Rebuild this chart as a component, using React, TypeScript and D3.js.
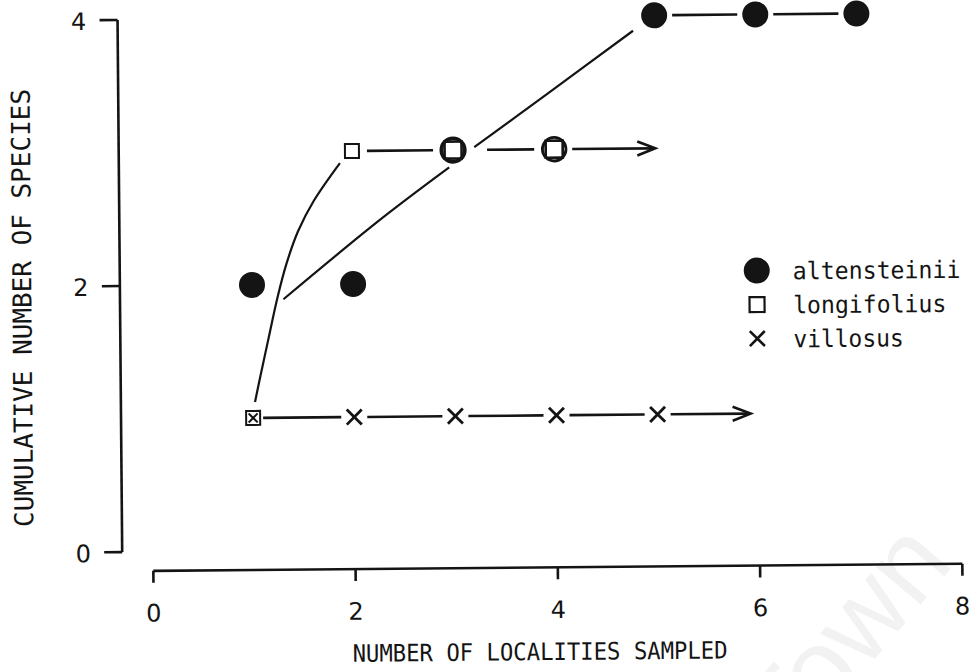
import React from 'react';
import * as d3 from 'd3';

// ---------- data ----------
const xTicks = [0, 2, 4, 6, 8];
const yTicks = [0, 2, 4];
const xTitle = 'NUMBER OF LOCALITIES SAMPLED';
const yTitle = 'CUMULATIVE NUMBER OF SPECIES';
const seriesNames = ['altensteinii', 'longifolius', 'villosus'];

const altX = [1, 2, 3, 4, 5, 6, 7];
const altY = [2, 2, 3, 3, 4, 4, 4];
const longX = [1, 2, 3, 4];
const longY = [1, 3, 3, 3];
const villX = [1, 2, 3, 4, 5];
const villY = [1, 1, 1, 1, 1];

// locality from which consecutive equal values are joined by a level line
const altPlateauFrom = 3;
const longPlateauFrom = 2;
const villPlateauFrom = 1;
// arrow ends (continuing level)
const longArrowTo = 5;
const villArrowTo = 5.92;

// fitted accumulation curves
const altFitA: [number, number][] = [[1.31, 1.89], [2.27, 2.48], [2.96, 2.87]];
const altFitB: [number, number][] = [[3.21, 3.02], [3.96, 3.43], [4.79, 3.885]];
const longFit: [number, number][] = [
  [1.02, 1.12], [1.08, 1.33], [1.16, 1.6], [1.25, 1.9], [1.34, 2.15],
  [1.46, 2.4], [1.62, 2.63], [1.88, 2.91],
];

const watermark = 'Town';

export default function App() {
  const W = 969, H = 672;
  const x = d3.scaleLinear().domain([0, 8]).range([151, 960]);
  const y = d3.scaleLinear().domain([0, 4]).range([549, 16.8]);
  const axisY = 568;
  const ink = '#141414';
  const font = '"DejaVu Sans Mono", "Liberation Mono", monospace';
  const digitFont = '"DejaVu Sans", sans-serif';
  const sw = 2.6;

  const line = d3.line<[number, number]>().x(d => x(d[0])).y(d => y(d[1])).curve(d3.curveCatmullRom.alpha(0.5));

  const has = (xs: number[], ys: number[], xv: number, yv: number) =>
    xs.some((v, i) => v === xv && ys[i] === yv);

  const plateauSegs = (xs: number[], ys: number[], from: number, pad: (xv: number, side: number) => number) => {
    const segs: { x1: number; x2: number; yy: number }[] = [];
    for (let i = 0; i < xs.length - 1; i++) {
      if (xs[i] < from) continue;
      if (ys[i] !== ys[i + 1]) continue;
      segs.push({ x1: x(xs[i]) + pad(xs[i], 1), x2: x(xs[i + 1]) - pad(xs[i + 1], -1), yy: y(ys[i]) });
    }
    return segs;
  };

  const altPad = (xv: number) => (has(longX, longY, xv, altY[altX.indexOf(xv)]) ? 20 : 18);
  const longPad = (xv: number, side: number) => {
    const i = longX.indexOf(xv);
    if (has(altX, altY, xv, longY[i])) return side > 0 && xv === 3 ? 34 : 20;
    if (has(villX, villY, xv, longY[i])) return 10;
    return 15;
  };
  const villPad = (xv: number) => (has(longX, longY, xv, 1) ? 10 : 13);

  const segs = [
    ...plateauSegs(longX, longY, longPlateauFrom, longPad),
    ...plateauSegs(altX, altY, altPlateauFrom, altPad),
    ...plateauSegs(villX, villY, villPlateauFrom, villPad),
  ];
  // dedupe segments on the same level between the same localities
  const uniq = segs.filter((s, i) => segs.findIndex(t => Math.abs((t.x1 + t.x2) - (s.x1 + s.x2)) < 40 && t.yy === s.yy) === i);

  const arrow = (x0: number, x1: number, yy: number, key: string) => (
    <g key={key}>
      <line x1={x0} x2={x1 - 2} y1={yy} y2={yy} stroke={ink} strokeWidth={sw} />
      <polyline points={`${x1 - 18},${yy - 7} ${x1},${yy} ${x1 - 18},${yy + 7}`} fill="none" stroke={ink} strokeWidth={sw} strokeLinejoin="miter" />
    </g>
  );

  const lastLong = longX.length - 1;
  const lastVill = villX.length - 1;

  const cross = (cx: number, cy: number, h: number, w: number, key: string) => (
    <g key={key} stroke={ink} strokeWidth={w} strokeLinecap="butt">
      <line x1={cx - h} y1={cy - h} x2={cx + h} y2={cy + h} />
      <line x1={cx - h} y1={cy + h} x2={cx + h} y2={cy - h} />
    </g>
  );

  return (
    <svg width={W} height={H} style={{ position: 'absolute', left: 0, top: 0, background: '#fff' }}>
      <rect width={W} height={H} fill="#fff" />
      <text x={790} y={760} fontFamily="Liberation Sans, sans-serif" fontSize={110} fill="#f2f2f2"
        transform="rotate(-50 790 760)">{watermark}</text>
      <g transform="rotate(-0.5 480 300)">
        {/* y axis */}
        <line x1={120} x2={120} y1={y(4)} y2={y(0)} stroke={ink} strokeWidth={sw} />
        {yTicks.map(t => (
          <g key={'yt' + t}>
            <line x1={102} x2={120} y1={y(t)} y2={y(t)} stroke={ink} strokeWidth={sw} />
            <text x={81} y={y(t) + 1} dy="0.36em" textAnchor="middle" fontFamily={digitFont} fontSize={24} fill={ink}>{t}</text>
          </g>
        ))}
        {/* x axis */}
        <line x1={x(0)} x2={x(8)} y1={axisY} y2={axisY} stroke={ink} strokeWidth={sw} />
        {xTicks.map(t => (
          <g key={'xt' + t}>
            <line x1={x(t)} x2={x(t)} y1={axisY} y2={axisY + 12} stroke={ink} strokeWidth={sw} />
            <text x={x(t)} y={610} dy="0.36em" textAnchor="middle" fontFamily={digitFont} fontSize={24} fill={ink}>{t}</text>
          </g>
        ))}
        <text x={537} y={652} dy="0.36em" textAnchor="middle" fontFamily={font} fontSize={24} fill={ink}
          textLength={375} lengthAdjust="spacingAndGlyphs">{xTitle}</text>
        <text transform="translate(22,304) rotate(-90)" dy="0.36em" textAnchor="middle" fontFamily={font} fontSize={26} fill={ink}
          textLength={438} lengthAdjust="spacingAndGlyphs">{yTitle}</text>

        {/* fitted curves */}
        <path d={line(longFit) || ''} fill="none" stroke={ink} strokeWidth={2.2} />
        <path d={line(altFitA) || ''} fill="none" stroke={ink} strokeWidth={2.2} />
        <path d={line(altFitB) || ''} fill="none" stroke={ink} strokeWidth={2.2} />

        {/* level lines */}
        {uniq.map((s, i) => (
          <line key={'s' + i} x1={s.x1} x2={s.x2} y1={s.yy} y2={s.yy} stroke={ink} strokeWidth={sw} />
        ))}
        {arrow(x(longX[lastLong]) + 18, x(longArrowTo), y(longY[lastLong]), 'la')}
        {arrow(x(villX[lastVill]) + 13, x(villArrowTo), y(villY[lastVill]), 'va')}

        {/* markers: altensteinii (open ring where it coincides with longifolius) */}
        {altX.map((xv, i) => {
          const shared = has(longX, longY, xv, altY[i]);
          return shared ? (
            <circle key={'a' + i} cx={x(xv)} cy={y(altY[i])} r={11.8} fill="#fff" stroke={ink} strokeWidth={xv === 3 ? 3.6 : 2.8} />
          ) : (
            <circle key={'a' + i} cx={x(xv)} cy={y(altY[i])} r={13} fill={ink} />
          );
        })}
        {/* longifolius */}
        {longX.map((xv, i) => {
          const shared = has(altX, altY, xv, longY[i]);
          const s = shared ? 17 : 14;
          return (
            <rect key={'l' + i} x={x(xv) - s / 2} y={y(longY[i]) - s / 2} width={s} height={s}
              fill="none" stroke={ink} strokeWidth={shared ? 2.6 : 2} />
          );
        })}
        {/* villosus */}
        {villX.map((xv, i) => {
          const shared = has(longX, longY, xv, villY[i]);
          return shared
            ? cross(x(xv), y(villY[i]), 4.5, 2, 'v' + i)
            : cross(x(xv), y(villY[i]), 7.5, 2.8, 'v' + i);
        })}

        {/* legend */}
        {seriesNames.map((name, i) => {
          const cy = 273 + i * 34;
          const cx = 757;
          return (
            <g key={'lg' + i}>
              {i === 0 && <circle cx={cx} cy={cy} r={13} fill={ink} />}
              {i === 1 && <rect x={cx - 7.5} y={cy - 7.5} width={15} height={15} fill="none" stroke={ink} strokeWidth={2.2} />}
              {i === 2 && cross(cx, cy, 7.5, 2.6, 'lgx')}
              <text x={793} y={cy + 9} fontFamily={font} fontSize={24} fill={ink}
                textLength={name.length * 14.3 - 4} lengthAdjust="spacingAndGlyphs">{name}</text>
            </g>
          );
        })}
      </g>
    </svg>
  );
}
